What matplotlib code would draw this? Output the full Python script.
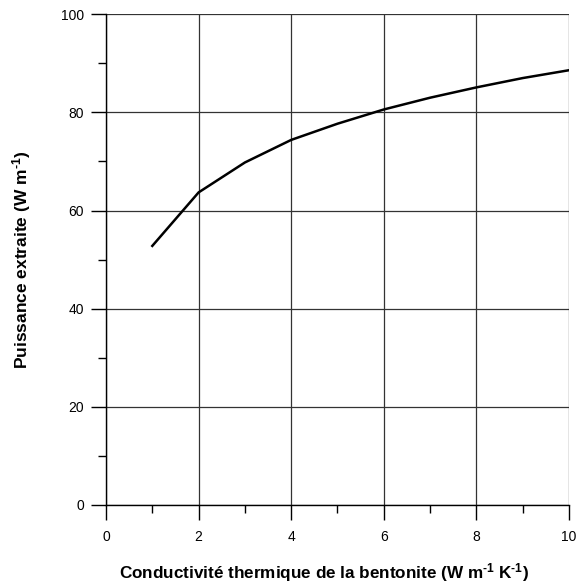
import matplotlib
matplotlib.use("Agg")
import matplotlib.pyplot as plt
from matplotlib.ticker import MultipleLocator

plt.rcParams['font.family'] = ['Liberation Sans', 'DejaVu Sans']
plt.rcParams['mathtext.fontset'] = 'custom'
plt.rcParams['mathtext.rm'] = 'Liberation Sans:bold'
plt.rcParams['mathtext.bf'] = 'Liberation Sans:bold'
plt.rcParams['mathtext.it'] = 'Liberation Sans:bold'
plt.rcParams['mathtext.default'] = 'rm'

conductivity = [1, 2, 3, 4, 5, 6, 7, 8, 9, 10]
power = [52.8, 63.7, 69.8, 74.4, 77.7, 80.6, 83.0, 85.1, 87.0, 88.6]
x_ticks = [0, 2, 4, 6, 8, 10]
y_ticks = [0, 20, 40, 60, 80, 100]

fig = plt.figure(figsize=(5.78, 5.83), dpi=100)
ax = fig.add_axes([0.1834, 0.1338, 0.8010, 0.8417])

ax.plot(conductivity, power, color='black', lw=1.8, zorder=3)
ax.set_xlim(0, 10)
ax.set_ylim(0, 100)
ax.set_xticks(x_ticks)
ax.set_yticks(y_ticks)
ax.xaxis.set_minor_locator(MultipleLocator(1))
ax.yaxis.set_minor_locator(MultipleLocator(10))
ax.grid(True, which='major', color='#333333', lw=0.9)
for s in ['top', 'right']:
    ax.spines[s].set_visible(False)
for s in ['left', 'bottom']:
    ax.spines[s].set_linewidth(1.0)
ax.tick_params(which='major', direction='out', length=11, width=1.0, labelsize=10)
ax.tick_params(axis='x', which='major', pad=7)
ax.tick_params(axis='y', which='major', pad=5)
ax.tick_params(which='minor', direction='out', length=6, width=1.0)
ax.set_xlabel("Conductivité thermique de la bentonite (W m$^{\u20101}$ K$^{\u20101}$)",
              fontsize=12.3, fontweight='bold')
ax.xaxis.set_label_coords(0.47, -0.115)
ax.set_ylabel("Puissance extraite (W m$^{\u20101}$)", fontsize=12.5, fontweight='bold', labelpad=20)

fig.savefig("out.png", dpi=100)
